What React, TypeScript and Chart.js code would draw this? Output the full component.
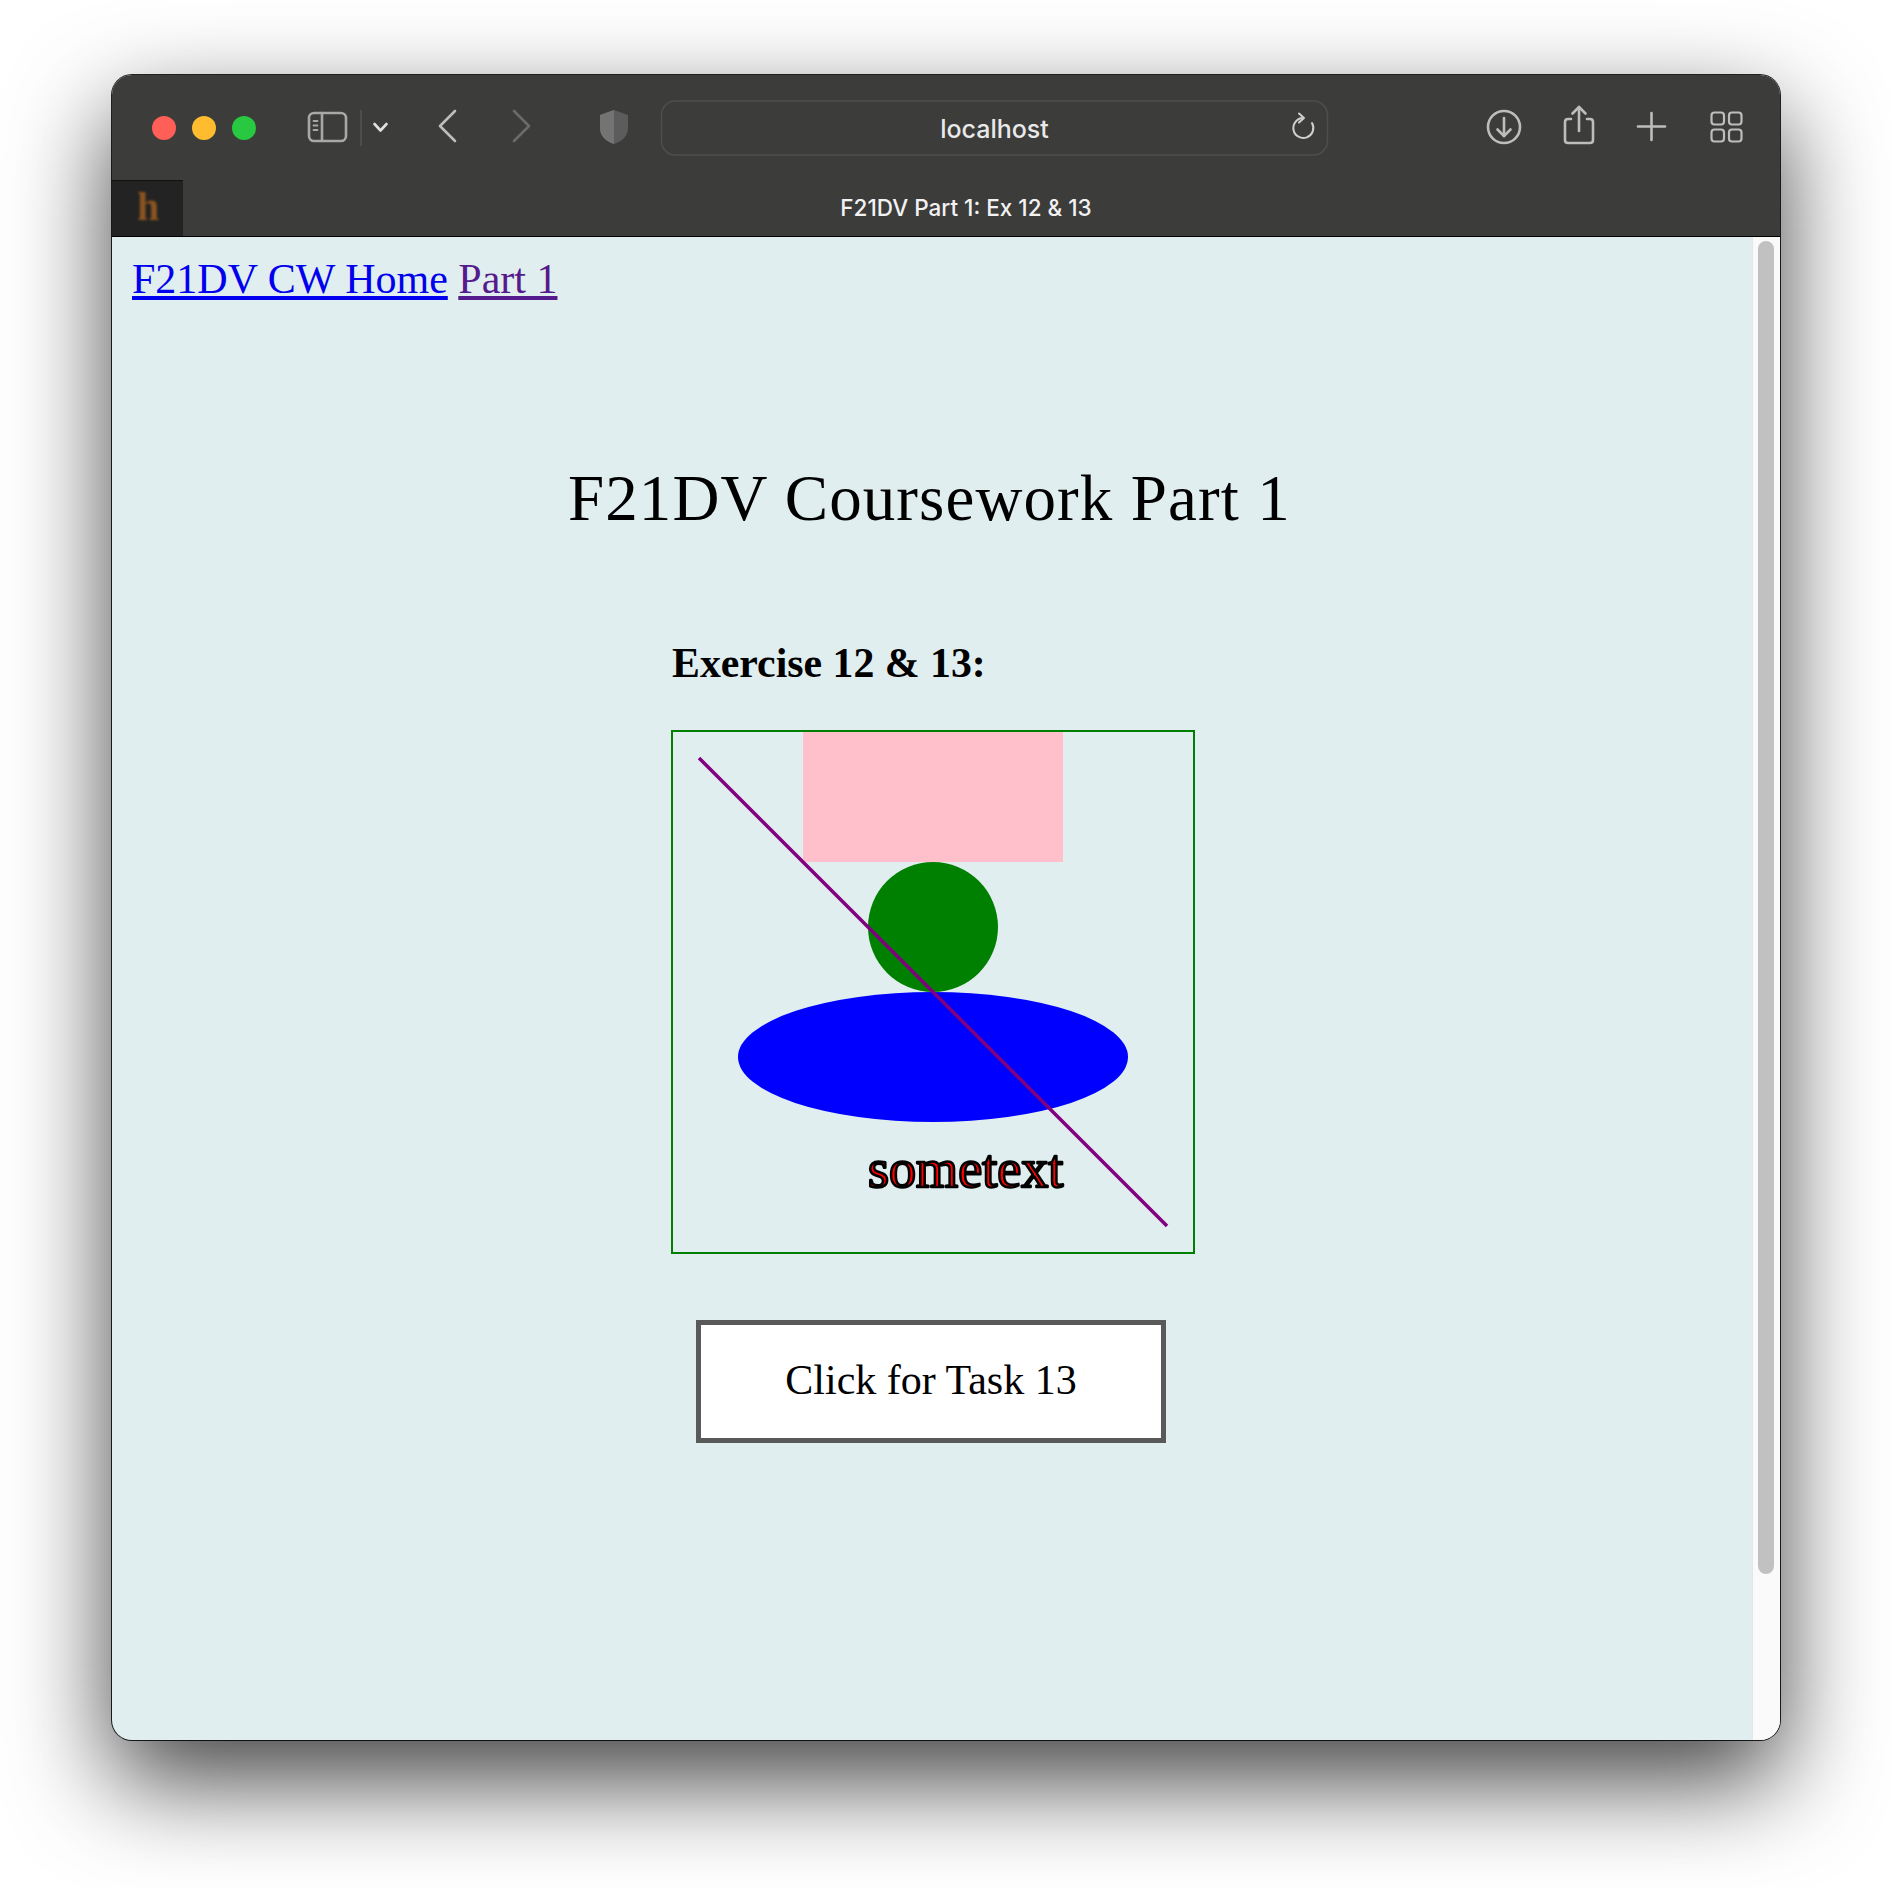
import { useEffect, useRef } from 'react'
import { Chart, registerables } from 'chart.js'

// Register Chart.js components
Chart.register(...registerables)

// SVG drawing in user units (0..200 each way, y grows downward)
const viewRange = [0, 200]
const rectBox = [50, 0, 100, 50] // x, y, width, height
const circleShape = [100, 75, 25] // cx, cy, r
const ellipseShape = [100, 125, 75, 25] // cx, cy, rx, ry
const lineXs = [10, 190]
const lineYs = [10, 190]
const textLabels = ['sometext']
const textAnchor = [75, 175] // x, baseline y
const textSize = [20.8]

const serif = '"Liberation Serif", "Times New Roman", serif'
const sans = 'Inter, Roboto, "Noto Sans", sans-serif'

const shapesPlugin = {
  id: 'svgShapes',
  beforeDatasetsDraw(chart: any) {
    const { ctx, scales } = chart
    const px = (v: number) => scales.x.getPixelForValue(v)
    const py = (v: number) => scales.y.getPixelForValue(v)
    ctx.save()

    // pink rectangle
    const [rx, ry, rw, rh] = rectBox
    ctx.fillStyle = 'pink'
    ctx.fillRect(px(rx), py(ry), px(rx + rw) - px(rx), py(ry + rh) - py(ry))

    // green circle
    const [cx, cy, r] = circleShape
    ctx.fillStyle = 'green'
    ctx.beginPath()
    ctx.ellipse(px(cx), py(cy), px(cx + r) - px(cx), Math.abs(py(cy + r) - py(cy)), 0, 0, Math.PI * 2)
    ctx.fill()

    // blue ellipse
    const [ex, ey, erx, ery] = ellipseShape
    ctx.fillStyle = 'blue'
    ctx.beginPath()
    ctx.ellipse(px(ex), py(ey), px(ex + erx) - px(ex), Math.abs(py(ey + ery) - py(ey)), 0, 0, Math.PI * 2)
    ctx.fill()

    ctx.restore()
  },
  afterDatasetsDraw(chart: any) {
    const { ctx, scales } = chart
    const px = (v: number) => scales.x.getPixelForValue(v)
    const py = (v: number) => scales.y.getPixelForValue(v)
    const size = px(textSize[0]) - px(0)
    ctx.save()
    ctx.font = `${size}px ${serif}`
    ctx.textBaseline = 'alphabetic'
    ctx.textAlign = 'left'
    ctx.fillStyle = 'red'
    ctx.strokeStyle = 'black'
    ctx.lineWidth = 2.6
    ctx.lineJoin = 'round'
    ctx.fillText(textLabels[0], px(textAnchor[0]), py(textAnchor[1]))
    ctx.strokeText(textLabels[0], px(textAnchor[0]), py(textAnchor[1]))
    ctx.restore()
  },
}

function Drawing() {
  const chartRef = useRef<HTMLCanvasElement>(null)
  const chartInstance = useRef<Chart | null>(null)

  useEffect(() => {
    if (!chartRef.current) return
    if (chartInstance.current) chartInstance.current.destroy()

    chartInstance.current = new Chart(chartRef.current, {
      type: 'scatter',
      data: {
        datasets: [{
          type: 'line',
          data: lineXs.map((x, i) => ({ x, y: lineYs[i] })),
          borderColor: 'purple',
          borderWidth: 3.5,
          pointRadius: 0,
          fill: false,
          tension: 0,
        }],
      },
      options: {
        responsive: false,
        maintainAspectRatio: false,
        animation: false,
        layout: { padding: 0 },
        events: [],
        plugins: {
          legend: { display: false },
          tooltip: { enabled: false },
        },
        scales: {
          x: { type: 'linear', min: viewRange[0], max: viewRange[1], display: false },
          y: { type: 'linear', min: viewRange[0], max: viewRange[1], reverse: true, display: false },
        },
      },
      plugins: [shapesPlugin],
    } as any)

    return () => {
      if (chartInstance.current) {
        chartInstance.current.destroy()
        chartInstance.current = null
      }
    }
  }, [])

  return (
    <div style={{ position: 'absolute', left: 671, top: 730, width: 520, height: 520, border: '2.5px solid green' }}>
      <canvas ref={chartRef} width={520} height={520} style={{ display: 'block', width: 520, height: 520 }}></canvas>
    </div>
  )
}

function Chrome() {
  const ic = { fill: 'none', stroke: '#bdbdbd', strokeWidth: 2.6, strokeLinecap: 'round' as const, strokeLinejoin: 'round' as const }
  return (
    <svg width={1892} height={240} style={{ position: 'absolute', left: 0, top: 0 }}>
      <circle cx={164} cy={128} r={12} fill="#ff5f57" />
      <circle cx={204} cy={128} r={12} fill="#febc2e" />
      <circle cx={244} cy={128} r={12} fill="#28c840" />
      {/* sidebar */}
      <rect x={309} y={113} width={37} height={28} rx={5} {...ic} stroke="#a8a8a8" />
      <line x1={322} y1={113} x2={322} y2={141} {...ic} stroke="#a8a8a8" />
      <line x1={313.5} y1={121} x2={317.5} y2={121} {...ic} stroke="#a8a8a8" strokeWidth={1.8} />
      <line x1={313.5} y1={125.5} x2={317.5} y2={125.5} {...ic} stroke="#a8a8a8" strokeWidth={1.8} />
      <line x1={313.5} y1={130} x2={317.5} y2={130} {...ic} stroke="#a8a8a8" strokeWidth={1.8} />
      <line x1={361} y1={110} x2={361} y2={146} stroke="#555" strokeWidth={1.5} />
      <polyline points="374.5,124 380.5,130.5 386.5,124" {...ic} stroke="#e0e0e0" />
      {/* back / forward */}
      <polyline points="455,111 440,126 455,141" {...ic} />
      <polyline points="514,111 529,126 514,141" {...ic} stroke="#6b6b6b" />
      {/* shield */}
      <path d="M614 110 L628 115 L628 128 Q628 139 614 144 Q600 139 600 128 L600 115 Z" fill="#5c5c5c" />
      <path d="M614 110 L600 115 L600 128 Q600 139 614 144 Z" fill="#747474" />
      {/* url bar */}
      <rect x={661.5} y={101} width={666} height={54} rx={14} fill="none" stroke="#4e4e4e" strokeWidth={1.5} />
      <path d="M1303 118 A10 10 0 1 0 1312 123" {...ic} stroke="#cfcfcf" strokeWidth={2} />
      <polyline points="1299,113.5 1304,118 1299,122.5" {...ic} stroke="#cfcfcf" strokeWidth={2} />
      {/* download */}
      <circle cx={1504} cy={127} r={16} {...ic} />
      <line x1={1504} y1={118} x2={1504} y2={136} {...ic} />
      <polyline points="1497.5,129.5 1504,136 1510.5,129.5" {...ic} />
      {/* share */}
      <path d="M1571 119 L1568 119 Q1565 119 1565 122 L1565 140 Q1565 143 1568 143 L1590 143 Q1593 143 1593 140 L1593 122 Q1593 119 1590 119 L1587 119" {...ic} />
      <line x1={1579} y1={107} x2={1579} y2={131} {...ic} />
      <polyline points="1572.5,113.5 1579,107 1585.5,113.5" {...ic} />
      {/* plus */}
      <line x1={1638} y1={126.5} x2={1665} y2={126.5} {...ic} />
      <line x1={1651.5} y1={113} x2={1651.5} y2={140} {...ic} />
      {/* tabs overview */}
      <rect x={1711.5} y={112.5} width={12.5} height={12} rx={3} {...ic} strokeWidth={2.2} />
      <rect x={1729} y={112.5} width={12.5} height={12} rx={3} {...ic} strokeWidth={2.2} />
      <rect x={1711.5} y={129.5} width={12.5} height={12} rx={3} {...ic} strokeWidth={2.2} />
      <rect x={1729} y={129.5} width={12.5} height={12} rx={3} {...ic} strokeWidth={2.2} />
    </svg>
  )
}

export default function App() {
  useEffect(() => {
    document.body.style.margin = '0'
    document.body.style.overflow = 'hidden'
  }, [])

  return (
    <div style={{ position: 'absolute', left: 0, top: 0, width: 1892, height: 1888, background: '#ffffff', overflow: 'hidden' }}>
      {/* browser window */}
      <div style={{
        position: 'absolute', left: 112, top: 75, width: 1668, height: 1665, borderRadius: 20, overflow: 'hidden',
        background: '#e1eef0',
        boxShadow: '0 0 0 1px rgba(0,0,0,0.85), 0 40px 100px rgba(0,0,0,0.75)',
      }}>
        <div style={{ position: 'absolute', left: 0, top: 0, width: 1668, height: 161, background: '#3c3c3b' }} />
        <div style={{ position: 'absolute', left: 0, top: 105, width: 71, height: 56, background: '#232323', borderTop: '1px solid #111' }} />
        <div style={{ position: 'absolute', left: 0, top: 161, width: 1668, height: 1, background: '#000' }} />
        <div style={{ position: 'absolute', left: 1640, top: 162, width: 28, height: 1503, background: '#fafafa', borderLeft: '1px solid #e6e6e6' }} />
        <div style={{ position: 'absolute', left: 1646, top: 166, width: 16, height: 1333, borderRadius: 8, background: '#c1c1c1' }} />
        <div style={{
          position: 'absolute', left: 25, top: 112, fontFamily: serif, fontWeight: 700, fontSize: 40, lineHeight: '40px',
          color: '#8a5420', filter: 'blur(1.3px)',
        }}>h</div>
      </div>

      <Chrome />

      <div style={{ position: 'absolute', left: 794.5, width: 400, top: 117.4, textAlign: 'center', fontFamily: sans, fontSize: 25, fontWeight: 500, lineHeight: '25px', color: '#e9e9e9' }}>localhost</div>
      <div style={{ position: 'absolute', left: 183, width: 1566, top: 197.3, textAlign: 'center', fontFamily: sans, fontSize: 22.5, fontWeight: 500, lineHeight: '22.5px', color: '#f2f2f2' }}>F21DV Part 1: Ex 12 &amp; 13</div>

      {/* page content */}
      <div style={{ position: 'absolute', left: 132, top: 258, fontFamily: serif, fontSize: 42, lineHeight: '42px', whiteSpace: 'nowrap' }}>
        <a style={{ color: '#0000ee', textDecoration: 'underline' }}>F21DV CW Home</a> <a style={{ color: '#551a8b', textDecoration: 'underline' }}>Part 1</a>
      </div>
      <div style={{ position: 'absolute', left: 568, top: 465.6, fontFamily: serif, fontSize: 65, lineHeight: '65px', letterSpacing: 1.1, whiteSpace: 'nowrap', color: '#000' }}>F21DV Coursework Part 1</div>
      <div style={{ position: 'absolute', left: 672, top: 643, fontFamily: serif, fontSize: 41.8, fontWeight: 700, lineHeight: '41.8px', whiteSpace: 'nowrap', color: '#000' }}>Exercise 12 &amp; 13:</div>

      <Drawing />

      <div style={{ position: 'absolute', left: 696, top: 1320, width: 470, height: 123, boxSizing: 'border-box', border: '5px solid #595959', background: '#fff' }} />
      <div style={{ position: 'absolute', left: 696, width: 470, top: 1359, textAlign: 'center', fontFamily: serif, fontSize: 42, lineHeight: '42px', whiteSpace: 'nowrap', color: '#000' }}>Click for Task 13</div>
    </div>
  )
}
